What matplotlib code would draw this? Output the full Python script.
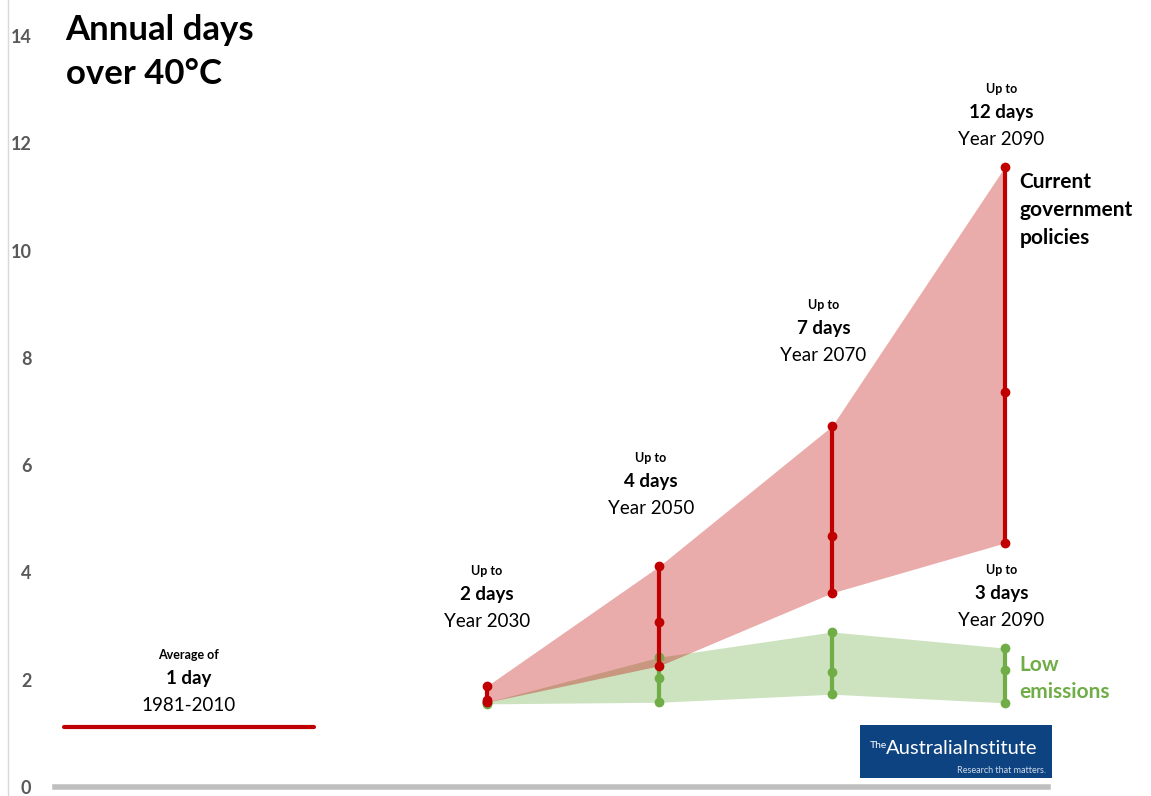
import matplotlib.pyplot as plt
import matplotlib.patches as mpatches

plt.rcParams['font.family'] = ['Lato', 'DejaVu Sans']

# data (annual days over 40C)
years = [2030, 2050, 2070, 2090]
cur_low = [1.58, 2.26, 3.62, 4.55]
cur_mid = [1.62, 3.08, 4.68, 7.36]
cur_high = [1.88, 4.12, 6.73, 11.56]
low_low = [1.55, 1.58, 1.73, 1.57]
low_mid = [1.57, 2.03, 2.14, 2.18]
low_high = [1.58, 2.42, 2.89, 2.59]
base_years = [1981, 2010]
base_value = 1.12

labels_cur = ["2 days", "4 days", "7 days", "12 days"]
labels_low = "3 days"

red = '#C00000'
green = '#70AD47'

fig = plt.figure(figsize=(11.51, 7.96), dpi=100)
ax = fig.add_axes([0.0478, 0.0113, 0.8627, 0.9435])
ax.set_xlim(1980, 2095)
ax.set_ylim(0, 14)

# shaded ranges
ax.fill_between(years, low_low, low_high, color=green, alpha=0.35, lw=0, zorder=1)
ax.fill_between(years, cur_low, cur_high, color=red, alpha=0.33, lw=0, zorder=2)

# range bars
for i, yr in enumerate(years):
    ax.plot([yr, yr, yr], [low_low[i], low_mid[i], low_high[i]], color=green,
            lw=3, marker='o', ms=6, zorder=3, solid_capstyle='round')
for i, yr in enumerate(years):
    ax.plot([yr, yr, yr], [cur_low[i], cur_mid[i], cur_high[i]], color=red,
            lw=3, marker='o', ms=6, zorder=4, solid_capstyle='round')

# baseline average
ax.plot(base_years, [base_value, base_value], color=red, lw=3, solid_capstyle='round')

# axes styling
for s in ax.spines.values():
    s.set_visible(False)
ax.axhline(0, color='#BFBFBF', lw=4, clip_on=False)
ax.set_xticks([])
ax.set_yticks(range(0, 15, 2))
ax.tick_params(axis='y', length=0, pad=17, labelsize=13, labelcolor='#595959')
for t in ax.get_yticklabels():
    t.set_fontweight('bold')

fig.add_artist(plt.Line2D([0.007, 0.007], [0, 1], color='#D9D9D9', lw=1))

# title
fig.text(0.057, 0.982, "Annual days\nover 40°C", fontsize=25, fontweight='bold',
         va='top', ha='left', linespacing=1.45)


def label(x, y_top, small, big, year):
    ax.annotate(small, (x, y_top), xytext=(0, 0), textcoords='offset points',
                ha='center', va='center', fontsize=9, fontweight='bold')
    ax.annotate(big, (x, y_top), xytext=(0, -17), textcoords='offset points',
                ha='center', va='center', fontsize=13.5, fontweight='bold')
    ax.annotate(year, (x, y_top), xytext=(0, -36), textcoords='offset points',
                ha='center', va='center', fontsize=13.5)


def py(p):
    return (787 - p) / 53.65


label(1995.5, py(655), "Average of", "1 day", "1981-2010")
label(2030, py(571), "Up to", labels_cur[0], "Year 2030")
label(2049, py(458), "Up to", labels_cur[1], "Year 2050")
label(2069, py(305), "Up to", labels_cur[2], "Year 2070")
label(2089.6, py(89), "Up to", labels_cur[3], "Year 2090")
label(2089.6, py(570), "Up to", labels_low, "Year 2090")

ax.text(2091.7, cur_high[3] - 0.1, "Current\ngovernment\npolicies", fontsize=15,
        fontweight='bold', va='top', ha='left', linespacing=1.5)
ax.text(2091.7, low_high[3] - 0.13, "Low\nemissions", fontsize=15, color=green,
        fontweight='bold', va='top', ha='left', linespacing=1.45)

# logo box
fig.add_artist(mpatches.Rectangle((860 / 1151, 1 - 778 / 796), 192 / 1151, 53 / 796,
                                  color='#0E4382', lw=0))
fig.text(870 / 1151, 1 - 748 / 796, "The", color='white', fontsize=7.5, va='baseline')
fig.text(886 / 1151, 1 - 754 / 796, "AustraliaInstitute", color='white', fontsize=14.5,
         va='baseline')
fig.text(1046 / 1151, 1 - 773 / 796, "Research that matters.", color='#D0DCEB',
         fontsize=6.5, ha='right', va='baseline')

fig.savefig('out.png', dpi=100)
